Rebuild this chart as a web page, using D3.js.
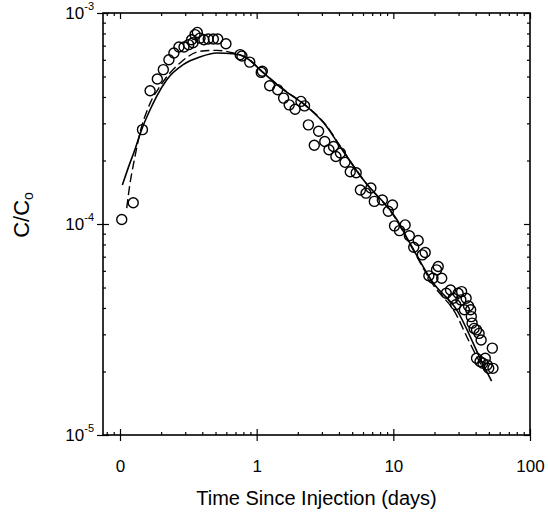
<!DOCTYPE html>
<html><head><meta charset="utf-8">
<script src="https://cdn.jsdelivr.net/npm/d3@7"></script>
<style>
body{margin:0;background:#fff;}
text{font-family:"Liberation Sans",Arial,sans-serif;fill:#000;}
</style></head>
<body><svg id="c" width="548" height="523"></svg>
<script>
// ---- data ----
const obsX = [0.103,0.125,0.146,0.166,0.1875,0.2075,0.228,0.248,0.270,0.294,0.318,0.334,0.342,0.354,0.368,0.385,0.411,0.442,0.482,0.519,0.596,0.757,0.78,0.89,1.08,1.1,1.245,1.425,1.575,1.73,1.91,2.11,2.24,2.39,2.64,2.84,3.15,3.38,3.65,3.8,4.1,4.43,4.84,5.35,5.74,6.31,6.85,7.26,8.31,9.19,9.86,10.2,11.1,12.2,13.1,14.1,15.2,16.3,17.1,18.2,19.5,20.7,21.3,22.6,24.4,26.2,27.4,28.6,29.8,31.2,31.6,33.1,34.1,35.5,36.8,37.2,37.7,39.0,40.6,42.4,43.9,40.6,43.1,45.2,47.1,48.5,49.9,53.0,53.6];
const obsY = [1.05e-4,1.26e-4,2.8e-4,4.28e-4,4.87e-4,5.39e-4,6.0e-4,6.46e-4,6.9e-4,6.9e-4,7.08e-4,7.47e-4,7.23e-4,7.9e-4,8.09e-4,7.6e-4,7.47e-4,7.53e-4,7.53e-4,7.53e-4,7.15e-4,6.35e-4,6.25e-4,5.85e-4,5.23e-4,5.3e-4,4.52e-4,4.33e-4,3.95e-4,3.67e-4,3.5e-4,3.81e-4,3.63e-4,2.95e-4,2.36e-4,2.75e-4,2.46e-4,2.25e-4,2.33e-4,2.09e-4,2.17e-4,1.96e-4,1.77e-4,1.75e-4,1.45e-4,1.4e-4,1.48e-4,1.28e-4,1.3e-4,1.15e-4,1.23e-4,9.8e-5,9.3e-5,9.9e-5,8.8e-5,7.76e-5,8.35e-5,7.14e-5,7.33e-5,5.68e-5,5.53e-5,6.06e-5,6.29e-5,5.53e-5,4.7e-5,4.87e-5,4.45e-5,4.14e-5,4.7e-5,4.37e-5,4.78e-5,3.92e-5,4.45e-5,4.09e-5,3.92e-5,3.64e-5,3.39e-5,3.2e-5,3.15e-5,3.03e-5,2.82e-5,2.31e-5,2.23e-5,2.19e-5,2.31e-5,2.15e-5,2.07e-5,2.58e-5,2.07e-5];
const solidX = [0.104,0.115,0.13,0.144,0.165,0.185,0.22,0.29,0.385,0.51,0.674,0.845,1.09,1.566,2.32,3.25,4.07,6.03,10.6,13.2,19.6,29.0,45.5,52.4];
const solidY = [1.53e-4,1.85e-4,2.3e-4,2.8e-4,3.45e-4,4.02e-4,4.83e-4,5.69e-4,6.19e-4,6.46e-4,6.41e-4,6.12e-4,5.29e-4,4.33e-4,3.61e-4,2.9e-4,2.33e-4,1.62e-4,1.05e-4,8.13e-5,5.25e-5,3.93e-5,2.15e-5,1.8e-5];
const dashX = [0.112,0.117,0.128,0.14,0.165,0.196,0.275,0.385,0.51,0.674,0.845,1.09,1.566,2.32,3.25,4.07,6.03,10.6,13.2,19.6,29.0,35.3,40.7,46.8];
const dashY = [1.19e-4,1.48e-4,2.05e-4,2.7e-4,3.7e-4,4.49e-4,5.8e-4,6.58e-4,6.65e-4,6.46e-4,6.15e-4,5.3e-4,4.36e-4,3.62e-4,2.92e-4,2.35e-4,1.62e-4,1.04e-4,8.05e-5,5.15e-5,3.7e-5,2.83e-5,2.36e-5,2.0e-5];
const xMajor = [0.1,1,10,100];
const xLabels = ["0","1","10","100"];
const yMajor = [1e-5,1e-4,1e-3];
const yExp = ["-5","-4","-3"];
const xTitle = "Time Since Injection (days)";

// ---- layout ----
const L=103,R=530,T=13,B=435;
const svg=d3.select("#c");
const x=d3.scaleLog().domain([0.0751,100]).range([L,R]);
const y=d3.scaleLog().domain([1e-5,1e-3]).range([B,T]);

const xMinor=[];
[0.01,0.1,1,10].forEach(d=>{for(let k=2;k<=9;k++){const v=d*k;if(v>=0.0751&&v<=100)xMinor.push(v);}});
const yMinor=[];
[1e-5,1e-4].forEach(d=>{for(let k=2;k<=9;k++)yMinor.push(d*k);});

function styleAxis(g){g.select(".domain").remove();g.selectAll("line").attr("stroke","#000").attr("stroke-width",1.2);}

// bottom
svg.append("g").attr("transform",`translate(0,${B})`).call(d3.axisBottom(x).tickValues(xMinor).tickSize(-3).tickFormat("")).call(styleAxis);
svg.append("g").attr("transform",`translate(0,${B})`).call(d3.axisBottom(x).tickValues(xMajor).tickSize(-6).tickFormat("")).call(styleAxis);
const bx=svg.append("g").attr("transform",`translate(0,${B})`).call(d3.axisBottom(x).tickValues(xMajor).tickSize(6).tickPadding(19).tickFormat((d,i)=>xLabels[i])).call(styleAxis);
bx.selectAll("text").attr("font-size",17).attr("font-family","Liberation Sans, Arial, sans-serif");
// top
svg.append("g").attr("transform",`translate(0,${T})`).call(d3.axisTop(x).tickValues(xMinor).tickSize(-3).tickFormat("")).call(styleAxis);
svg.append("g").attr("transform",`translate(0,${T})`).call(d3.axisTop(x).tickValues(xMajor).tickSize(-6).tickFormat("")).call(styleAxis);
// left
svg.append("g").attr("transform",`translate(${L},0)`).call(d3.axisLeft(y).tickValues(yMinor).tickSize(-3).tickFormat("")).call(styleAxis);
svg.append("g").attr("transform",`translate(${L},0)`).call(d3.axisLeft(y).tickValues(yMajor).tickSize(-6).tickFormat("")).call(styleAxis);
const ly=svg.append("g").attr("transform",`translate(${L},0)`).call(d3.axisLeft(y).tickValues(yMajor).tickSize(6).tickPadding(9).tickFormat("")).call(styleAxis);
ly.selectAll(".tick").each(function(d,i){
  const t=d3.select(this).append("text").attr("x",-9).attr("dy","0.34em").attr("text-anchor","end").attr("font-size",17);
  t.append("tspan").text("10");
  t.append("tspan").attr("font-size",11).attr("dy","-0.8em").text(yExp[i]);
});
// right
svg.append("g").attr("transform",`translate(${R},0)`).call(d3.axisRight(y).tickValues(yMinor).tickSize(-3).tickFormat("")).call(styleAxis);
svg.append("g").attr("transform",`translate(${R},0)`).call(d3.axisRight(y).tickValues(yMajor).tickSize(-6).tickFormat("")).call(styleAxis);

// frame
svg.append("rect").attr("x",L).attr("y",T).attr("width",R-L).attr("height",B-T).attr("fill","none").attr("stroke","#000").attr("stroke-width",1.6);

// curves
const line=d3.line().x(d=>x(d[0])).y(d=>y(d[1])).curve(d3.curveMonotoneX);
svg.append("path").datum(solidX.map((v,i)=>[v,solidY[i]])).attr("d",line).attr("fill","none").attr("stroke","#000").attr("stroke-width",1.6);
svg.append("path").datum(dashX.map((v,i)=>[v,dashY[i]])).attr("d",line).attr("fill","none").attr("stroke","#000").attr("stroke-width",1.4).attr("stroke-dasharray","9,4");

// observations
svg.append("g").selectAll("circle").data(obsX.map((v,i)=>[v,obsY[i]])).join("circle")
  .attr("cx",d=>x(d[0])).attr("cy",d=>y(d[1])).attr("r",5)
  .attr("fill","none").attr("stroke","#000").attr("stroke-width",1.4);

// titles
svg.append("text").attr("x",(L+R)/2).attr("y",505).attr("text-anchor","middle").attr("font-size",20).text(xTitle);
const yt=svg.append("text").attr("transform",`translate(29,215) rotate(-90)`).attr("text-anchor","middle").attr("font-size",22);
yt.append("tspan").text("C/C");
yt.append("tspan").attr("font-size",14).attr("dy","0.3em").text("o");
</script></body></html>
